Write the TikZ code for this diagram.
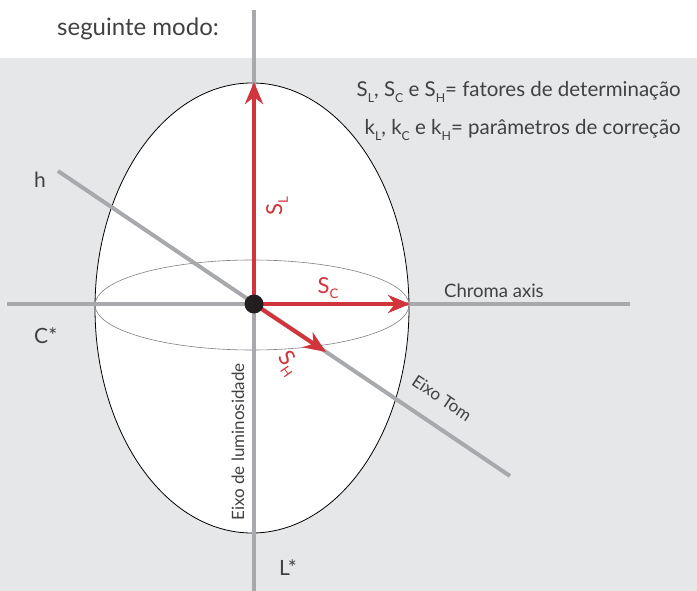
\documentclass[tikz,border=0pt]{standalone}
\usepackage{fontspec}
\setmainfont{Lato}
\usetikzlibrary{arrows.meta}
\definecolor{bg}{HTML}{E6E7E8}
\definecolor{axisgray}{HTML}{A7A9AC}
\definecolor{redS}{HTML}{D2343B}
\definecolor{txt}{HTML}{414042}
\definecolor{dotc}{HTML}{231F20}
\newcommand{\lowsub}[1]{\raisebox{-0.5ex}{\scalebox{0.6}{#1}}}
\begin{document}
\begin{tikzpicture}[x=1pt,y=-1pt,
  axisline/.style={draw=axisgray, line width=4pt},
  redarrow/.style={draw=redS, line width=4pt, -{Stealth[length=22pt,width=18pt,inset=7pt]}},
  lbl/.style={text=txt, inner sep=0pt},
  redlbl/.style={text=redS, inner sep=0pt, font=\fontsize{22}{22}\selectfont}]
\useasboundingbox (0,0) rectangle (697,591);
\fill[bg] (0,58) rectangle (697,591);
% ellipsoid
\filldraw[fill=white, draw=black, line width=0.8pt] (252,308) ellipse [x radius=157, y radius=225];
\draw[draw=gray, line width=0.6pt] (252,305) ellipse [x radius=157, y radius=45];
% coordinates
\coordinate (O) at (254,304);
\coordinate (Ltop) at (254,10);
\coordinate (Lbot) at (254,591);
\coordinate (Cl) at (7,304);
\coordinate (Cr) at (630,304);
\coordinate (hs) at (58,171);
\coordinate (he) at (510,476);
\coordinate (SLtip) at (254,82);
\coordinate (SCtip) at (410,304);
\coordinate (SHtip) at (326,352);
% axes
\draw[axisline] (Ltop) -- (Lbot);
\draw[axisline] (Cl) -- (Cr);
\draw[axisline] (hs) -- (he);
% red vectors
\draw[redarrow] (O) -- (SLtip);
\draw[redarrow] (O) -- (SCtip);
\draw[redarrow] (O) -- (SHtip);
\node[circle, fill=dotc, minimum size=19pt, inner sep=0pt] (dot) at (O) {};
% texts
\node[lbl, anchor=base west, font=\fontsize{24}{24}\selectfont] (title) at (57,36) {seguinte modo:};
\node[lbl, anchor=base east, font=\fontsize{20.5}{20.5}\selectfont] (leg1) at (681,97) {S\lowsub{L}, S\lowsub{C} e S\lowsub{H}= fatores de determinação};
\node[lbl, anchor=base east, font=\fontsize{20.5}{20.5}\selectfont] (leg2) at (681,135) {k\lowsub{L}, k\lowsub{C} e k\lowsub{H}= parâmetros de correção};
\node[lbl, anchor=base west, font=\fontsize{21}{21}\selectfont] (hl) at (34,188) {h};
\node[lbl, anchor=base west, font=\fontsize{21}{21}\selectfont] (cl) at (34,343) {C*};
\node[lbl, anchor=base west, font=\fontsize{21}{21}\selectfont] (ll) at (279,575) {L*};
\node[lbl, anchor=base west, font=\fontsize{18.5}{18.5}\selectfont] (chroma) at (444,298) {Chroma axis};
\node[lbl, rotate=-34, font=\fontsize{17}{17}\selectfont] (tom) at (442,398) {Eixo Tom};
\node[lbl, rotate=90, font=\fontsize{17}{17}\selectfont] (lum) at (238,442) {Eixo de luminosidade};
\node[redlbl, rotate=90] (slab) at (277,206) {S\lowsub{L}};
\node[redlbl] (sclab) at (328,288) {S\lowsub{C}};
\node[redlbl, rotate=-55] (shlab) at (288,364) {S\lowsub{H}};
\end{tikzpicture}
\end{document}
